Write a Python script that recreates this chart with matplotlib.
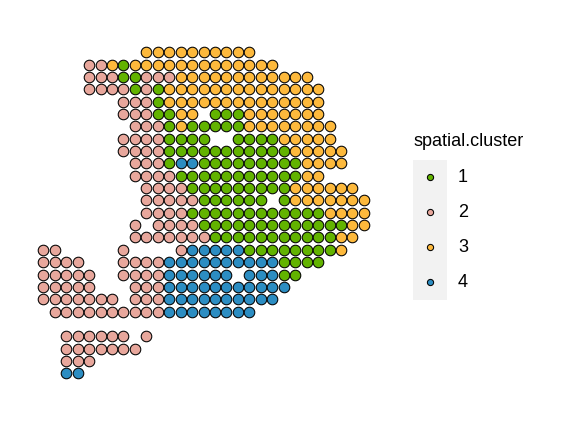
import numpy as np
import matplotlib.pyplot as plt

plt.rcParams['font.family'] = ['Liberation Sans', 'DejaVu Sans']

# spots per array row: (first col, last col, cluster)
rows = [
    [(9, 18, '3')],
    [(4, 5, '2'), (6, 6, '3'), (7, 7, '1'), (8, 20, '3')],
    [(4, 6, '2'), (7, 8, '1'), (9, 11, '2'), (12, 23, '3')],
    [(4, 7, '2'), (8, 8, '1'), (9, 9, '2'), (10, 10, '1'), (11, 24, '3')],
    [(7, 9, '2'), (10, 10, '1'), (11, 24, '3')],
    [(7, 9, '2'), (10, 11, '1'), (12, 13, '3'), (15, 17, '1'), (18, 24, '3')],
    [(8, 10, '2'), (11, 11, '1'), (12, 12, '3'), (13, 17, '1'), (18, 25, '3')],
    [(7, 10, '2'), (11, 14, '1'), (17, 20, '1'), (21, 25, '3')],
    [(7, 10, '2'), (11, 21, '1'), (22, 26, '3')],
    [(8, 10, '2'), (11, 11, '1'), (12, 13, '4'), (14, 22, '1'), (23, 26, '3')],
    [(8, 11, '2'), (12, 22, '1'), (23, 24, '3')],
    [(9, 12, '2'), (13, 21, '1'), (22, 27, '3')],
    [(9, 13, '2'), (14, 19, '1'), (21, 21, '1'), (22, 28, '3')],
    [(9, 12, '2'), (13, 24, '1'), (25, 28, '3')],
    [(8, 8, '2'), (10, 13, '2'), (14, 26, '1'), (27, 28, '3')],
    [(8, 14, '2'), (15, 25, '1'), (26, 27, '3')],
    [(0, 1, '2'), (7, 7, '2'), (12, 12, '2'), (13, 17, '4'), (18, 25, '1'), (26, 26, '3')],
    [(0, 3, '2'), (7, 10, '2'), (11, 20, '4'), (21, 24, '1')],
    [(0, 4, '2'), (7, 10, '2'), (11, 16, '4'), (18, 20, '4'), (21, 22, '1')],
    [(0, 4, '2'), (8, 10, '2'), (11, 21, '4')],
    [(0, 6, '2'), (8, 10, '2'), (11, 20, '4')],
    [(1, 10, '2'), (11, 18, '4')],
    [],
    [(2, 7, '2'), (9, 9, '2')],
    [(2, 8, '2')],
    [(2, 4, '2')],
    [(2, 3, '4')],
]

clusters = ['1', '2', '3', '4']
colors = ['#62B300', '#E8A79C', '#FDB93C', '#2C8DC2']

xs, ys, cs = [], [], []
for r, segs in enumerate(rows):
    for c0, c1, cl in segs:
        for c in range(c0, c1 + 1):
            xs.append(c)
            ys.append(-r)
            cs.append(cl)
xs = np.array(xs)
ys = np.array(ys)
cs = np.array(cs)

fig = plt.figure(figsize=(5.76, 4.32), dpi=100)
ax = fig.add_axes([37.6 / 576, 52.5 / 432, 332 / 576, 333.4 / 432])
for cl, col in zip(clusters, colors):
    m = cs == cl
    ax.scatter(xs[m], ys[m], s=58, c=col, edgecolors='black', linewidths=0.75, clip_on=False)
ax.set_xlim(-0.5, 28.5)
ax.set_ylim(-26.5, 0.5)
ax.axis('off')

# legend
leg = fig.add_axes([412.7 / 576, 132.5 / 432, 34 / 576, 139.5 / 432])
leg.set_xlim(0, 1)
leg.set_ylim(0, 4)
leg.set_facecolor('#F2F2F2')
for sp in leg.spines.values():
    sp.set_visible(False)
leg.set_xticks([])
leg.set_yticks([])
for i, (cl, col) in enumerate(zip(clusters, colors)):
    yy = 3.5 - i
    leg.scatter([0.5], [yy], s=20, c=col, edgecolors='black', linewidths=0.75)
    leg.text(1.33, yy, cl, fontsize=13, va='center', ha='left', clip_on=False)

fig.text(413 / 576, (432 - 146) / 432, 'spatial.cluster', fontsize=13, va='baseline', ha='left')

fig.savefig('out.png', dpi=100)
